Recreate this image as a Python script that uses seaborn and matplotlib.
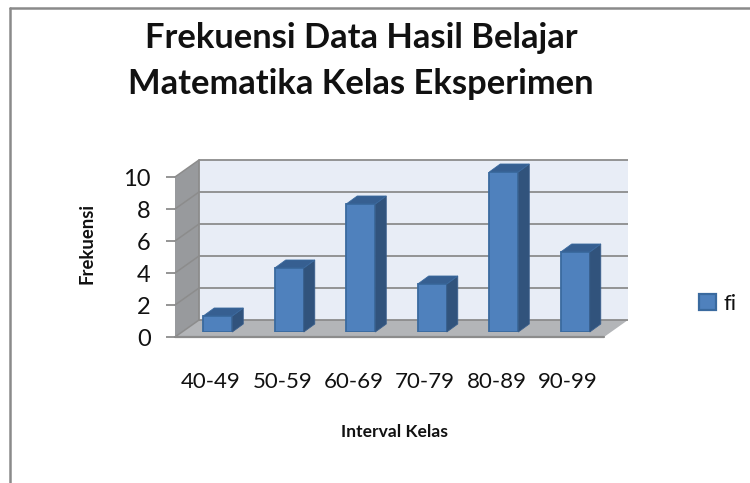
import matplotlib
matplotlib.use("Agg")
import matplotlib.pyplot as plt
from matplotlib.lines import Line2D
from matplotlib.patches import Polygon, Patch
import pandas as pd
import seaborn as sns

categories = ["40-49", "50-59", "60-69", "70-79", "80-89", "90-99"]
fi = [1, 4, 8, 3, 10, 5]
y_ticks = [0, 2, 4, 6, 8, 10]
title = "Frekuensi Data Hasil Belajar\nMatematika Kelas Eksperimen"
x_label = "Interval Kelas"
y_label = "Frekuensi"
series_name = "fi"

sns.set_theme(style="white")
plt.rcParams["font.family"] = ["Lato", "DejaVu Sans"]

W, H = 750, 483
fig = plt.figure(figsize=(W / 100, H / 100), dpi=100, facecolor="white")

def rect(x0, x1, y_bottom, y_top):
    return [x0 / W, 1 - y_bottom / H, (x1 - x0) / W, (y_bottom - y_top) / H]

GRAY = "#8c8c8c"
X0, X1, Y0, Y10 = 175, 604, 337, 177
ax = fig.add_axes(rect(X0, X1, Y0, Y10))
ax.set_xlim(-0.5, 5.5)
ax.set_ylim(0, 10)
PX_X = (X1 - X0) / 6      # pixels per category
PX_Y = (Y0 - Y10) / 10    # pixels per value unit
for s in ax.spines.values():
    s.set_visible(False)
ax.patch.set_visible(False)

# 3D box depth
wx, wy = 24 / PX_X, 17 / PX_Y
xl, xr = -0.5, 5.5
ax.add_patch(Polygon([(xl + wx, wy), (xr + wx, wy), (xr + wx, 10 + wy), (xl + wx, 10 + wy)],
                     fc="#e8edf6", ec="none", clip_on=False, zorder=1))
ax.add_patch(Polygon([(xl, 0), (xl + wx, wy), (xl + wx, 10 + wy), (xl, 10)],
                     fc="#989a9d", ec="none", clip_on=False, zorder=1))
ax.add_patch(Polygon([(xl, 0), (xr, 0), (xr + wx, wy), (xl + wx, wy)],
                     fc="#b3b5b8", ec="none", clip_on=False, zorder=2))
for v in y_ticks:
    ax.plot([xl + wx, xr + wx], [v + wy, v + wy], color=GRAY, lw=1.3, clip_on=False, zorder=3,
            solid_capstyle="butt")
    ax.plot([xl, xl + wx], [v, v + wy], color=GRAY, lw=1.1, clip_on=False, zorder=3)
ax.plot([xl + wx, xl + wx], [wy, 10 + wy], color=GRAY, lw=1.3, clip_on=False, zorder=3)
ax.plot([xl, xr], [0, 0], color=GRAY, lw=1.6, clip_on=False, zorder=4)

ax.set_xticks(range(len(categories)), categories, fontsize=16, color="#111111")
ax.set_yticks(y_ticks, [str(v) for v in y_ticks], fontsize=17, color="#111111")
ax.tick_params(axis="x", length=0, pad=25.5)
ax.tick_params(axis="y", length=6.5, width=1.3, color=GRAY, pad=11, left=True)
ax.set_xlabel(x_label, fontsize=12.6, fontweight="bold", color="#111111")
ax.set_ylabel(y_label, fontsize=13.3, fontweight="bold", color="#111111")
ax.xaxis.set_label_coords(395 / W, 1 - 424 / H, transform=fig.transFigure)
ax.yaxis.set_label_coords(96 / W, 1 - 243 / H, transform=fig.transFigure)

# bars sit slightly inside the floor: overlay axes on the same scale
bx, by = 7, 5
ax2 = fig.add_axes(rect(X0 + bx, X1 + bx, Y0 - by, Y10 - by))
df = pd.DataFrame({"interval": categories, "fi": fi})
sns.barplot(data=df, x="interval", y="fi", ax=ax2, color="#4f81bd", saturation=1,
            width=0.406, edgecolor="#3a6a9f", linewidth=1.3)
ax2.set_xlim(-0.5, 5.5)
ax2.set_ylim(0, 10)
ax2.axis("off")
dx, dy = 11 / PX_X, 8 / PX_Y
for p in ax2.patches:
    x, w, h = p.get_x(), p.get_width(), p.get_height()
    ax2.add_patch(Polygon([(x + w, 0), (x + w + dx, dy), (x + w + dx, h + dy), (x + w, h)],
                          fc="#31537c", ec="#3a5f8c", lw=0.6, clip_on=False, zorder=1.5))
    ax2.add_patch(Polygon([(x, h), (x + w, h), (x + w + dx, h + dy), (x + dx, h + dy)],
                          fc="#365f91", ec="#3a6a9f", lw=0.6, clip_on=False, zorder=1.5))

fig.text(361 / W, 1 - 61 / H, title, ha="center", va="center", fontsize=24.8,
         fontweight="bold", color="#111111", linespacing=1.56)

handle = Patch(fc="#4f81bd", ec="#3a6a9f", lw=1.6, label=series_name)
fig.legend(handles=[handle], loc="center left", bbox_to_anchor=(679 / W, 1 - 304 / H),
           frameon=False, fontsize=16, handlelength=0.78, handleheight=0.75, handletextpad=0.3,
           labelcolor="#111111")

fig.add_artist(Line2D([10 / W, 10 / W], [0, 1 - 8 / H], color="#8a8a8a", lw=1.8))
fig.add_artist(Line2D([10 / W, 1], [1 - 8 / H, 1 - 8 / H], color="#8a8a8a", lw=1.8))

fig.savefig("out.png", dpi=100, facecolor="white")
